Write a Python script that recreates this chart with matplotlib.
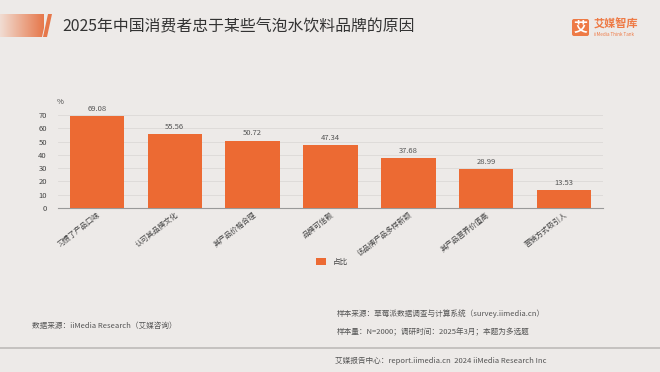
import numpy as np
import matplotlib.pyplot as plt
from matplotlib.patches import Polygon, FancyBboxPatch
from matplotlib.colors import LinearSegmentedColormap

plt.rcParams['font.family'] = ['Noto Sans CJK SC', 'DejaVu Sans']

# --------------------------------------------------
# data
# --------------------------------------------------
title = "2025年中国消费者忠于某些气泡水饮料品牌的原因"
categories = ["习惯了产品口味", "认可其品牌文化", "其产品价格合理", "品牌可信赖",
              "该品牌产品多样新颖", "其产品营养价值高", "营销方式吸引人"]
values = [69.08, 55.56, 50.72, 47.34, 37.68, 28.99, 13.53]
yticks = [0, 10, 20, 30, 40, 50, 60, 70]
series_name = "占比"

bg = "#EDEAE8"
orange = "#EC6A33"
gray_txt = "#555555"

W, H = 660, 372
fig = plt.figure(figsize=(6.6, 3.72), dpi=100, facecolor=bg)

# full-figure overlay for decorations (pixel coords, y down)
deco = fig.add_axes([0, 0, 1, 1], zorder=0)
deco.set_xlim(0, W)
deco.set_ylim(H, 0)
deco.axis("off")

# gradient slash at the title
grad = np.linspace(0, 1, 256).reshape(1, -1)
cmap = LinearSegmentedColormap.from_list("g", ["#F1DDD3", "#E6774A"])
im = deco.imshow(grad, extent=(0, 44, 37, 14), cmap=cmap, aspect="auto", zorder=1)
clip = Polygon([(0, 14), (47, 14), (42, 37), (0, 37)], closed=True, transform=deco.transData)
im.set_clip_path(clip)
deco.add_patch(Polygon([(48, 14), (52, 14), (47, 37), (43, 37)], closed=True,
                       facecolor="#E6774A", edgecolor="none", zorder=2))

fig.text(62 / W, 1 - 27 / H, title, fontsize=11.4, color="#333333", va="center", ha="left")

# logo
deco.add_patch(FancyBboxPatch((572, 19), 17, 17, boxstyle="round,pad=0,rounding_size=2",
                              facecolor="#EE7A45", edgecolor="none", zorder=2))
deco.text(580.5, 28, "艾", color="white", fontsize=10, ha="center", va="center",
          fontweight="bold", zorder=3)
deco.text(594, 24, "艾媒智库", color="#EE7A45", fontsize=8, ha="left", va="center",
          fontweight="bold")
deco.text(594, 34, "iiMedia Think Tank", color="#EE7A45", fontsize=3.3, ha="left", va="center")

# footer
fig.text(32 / W, 1 - 326 / H, "数据来源：iiMedia Research（艾媒咨询）", fontsize=5.5,
         color=gray_txt, va="center")
fig.text(337 / W, 1 - 314 / H, "样本来源：草莓派数据调查与计算系统（survey.iimedia.cn）",
         fontsize=5.5, color=gray_txt, va="center")
fig.text(337 / W, 1 - 332 / H, "样本量：N=2000；调研时间：2025年3月；本题为多选题",
         fontsize=5.5, color=gray_txt, va="center")
deco.plot([0, W], [348, 348], color="#BDBAB8", lw=1.2)
fig.text(335 / W, 1 - 361 / H, "艾媒报告中心：report.iimedia.cn  2024 iiMedia Research Inc",
         fontsize=5.5, color=gray_txt, va="center")

# --------------------------------------------------
# bar chart
# --------------------------------------------------
left, right, top, bottom = 58, 603, 115, 208
ax = fig.add_axes([left / W, 1 - bottom / H, (right - left) / W, (bottom - top) / H], zorder=1)
ax.set_facecolor("none")
x = np.arange(len(categories))
bars = ax.bar(x, values, width=0.7, color=orange, zorder=3, label=series_name)
for xi, v in zip(x, values):
    ax.text(xi, v + 2.5, f"{v:.2f}", ha="center", va="bottom", fontsize=5.5, color=gray_txt)

ax.set_xlim(-0.5, len(categories) - 0.5)
ax.set_ylim(0, 70)
ax.set_yticks(yticks)
ax.tick_params(axis="y", length=0, labelsize=5.5, labelcolor="#444444", pad=8)
ax.tick_params(axis="x", length=0, pad=2)
ax.set_xticks(x)
ax.set_xticklabels(categories, rotation=38, ha="right", rotation_mode="anchor",
                   fontsize=5.3, color="#444444")
ax.grid(axis="y", color="#DCD9D7", lw=0.6, zorder=0)
for s in ["top", "right", "left"]:
    ax.spines[s].set_visible(False)
ax.spines["bottom"].set_color("#999999")
ax.spines["bottom"].set_linewidth(0.8)
ax.text(-0.47, 80, "%", fontsize=5.5, color="#444444", ha="center", va="center",
        transform=ax.transData, clip_on=False)

ax.legend(loc="center", bbox_to_anchor=(332 / W, 1 - 262 / H), bbox_transform=fig.transFigure,
          frameon=False, fontsize=5.5, handlelength=1.3, handleheight=0.9, labelcolor="#444444")

fig.savefig("out.png", dpi=100, facecolor=bg)
